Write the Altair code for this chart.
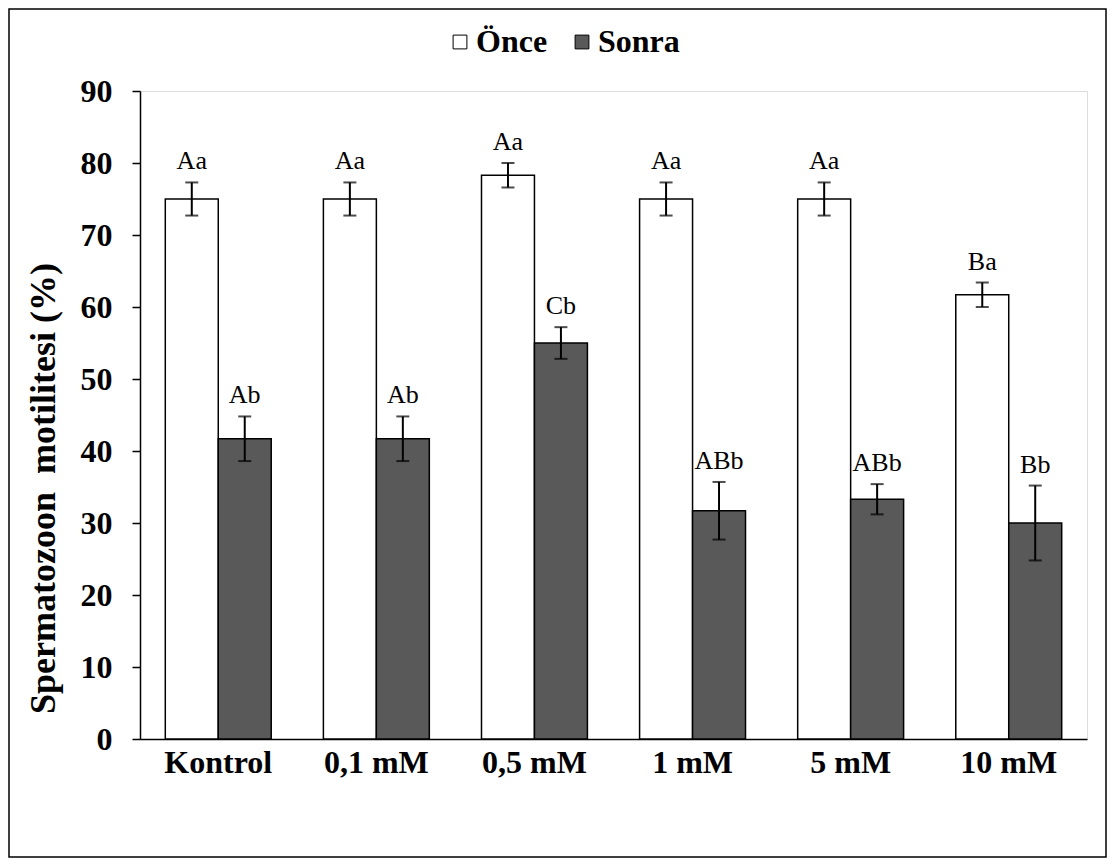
import altair as alt
import pandas as pd

categories = ["Kontrol", "0,1 mM", "0,5 mM", "1 mM", "5 mM", "10 mM"]
series = ["Önce", "Sonra"]
once = [75.0, 75.0, 78.3, 75.0, 75.0, 61.7]
sonra = [41.7, 41.7, 55.0, 31.7, 33.3, 30.0]
once_err = [2.3, 2.3, 1.7, 2.3, 2.3, 1.7]
sonra_err = [3.1, 3.1, 2.2, 4.0, 2.1, 5.2]
once_letters = ["Aa", "Aa", "Aa", "Aa", "Aa", "Ba"]
sonra_letters = ["Ab", "Ab", "Cb", "ABb", "ABb", "Bb"]
y_ticks = [0, 10, 20, 30, 40, 50, 60, 70, 80, 90]

rows = []
for i, c in enumerate(categories):
    rows.append({"cat": c, "series": "Önce", "value": once[i], "err": once_err[i], "letter": once_letters[i]})
    rows.append({"cat": c, "series": "Sonra", "value": sonra[i], "err": sonra_err[i], "letter": sonra_letters[i]})
df = pd.DataFrame(rows)
df["lo"] = df["value"] - df["err"]
df["hi"] = df["value"] + df["err"]

W, H = 947, 648
PL, PT, PR, PB = 132, 83, 20, 119
FONT = "Liberation Serif"

x_enc = alt.X("cat:N", sort=categories,
              scale=alt.Scale(paddingInner=0.33, paddingOuter=0.16),
              axis=alt.Axis(title=None, labelAngle=0, labelFontSize=32, labelFontWeight="bold",
                            labelFont=FONT, labelColor="black", domainColor="black",
                            domainWidth=1.5, ticks=False, labelPadding=8))
xo = alt.XOffset("series:N", sort=series, scale=alt.Scale(paddingInner=0, paddingOuter=0))
y_scale = alt.Scale(domain=[0, 90], nice=False)

base = alt.Chart(df)

bars = base.mark_bar(stroke="black", strokeWidth=1.5).encode(
    x=x_enc,
    xOffset=xo,
    y=alt.Y("value:Q", scale=y_scale,
            axis=alt.Axis(values=y_ticks, grid=False, title="Spermatozoon\u00a0 motilitesi (%)",
                          titleFont=FONT, titleFontSize=36, titleFontWeight="bold", titleColor="black",
                          titleX=-97, titleY=397, titleBaseline="middle", titleAngle=270,
                          labelFont=FONT, labelFontSize=32, labelFontWeight="bold", labelColor="black",
                          domainColor="black", domainWidth=1.5, tickColor="black", tickWidth=1.5,
                          tickSize=8, labelPadding=20)),
    color=alt.Color("series:N", sort=series,
                    scale=alt.Scale(domain=series, range=["#ffffff", "#595959"]),
                    legend=alt.Legend(title=None, orient="none", legendX=304, legendY=-65,
                                      direction="horizontal", symbolType="square", symbolSize=190,
                                      symbolStrokeColor="black", symbolStrokeWidth=1,
                                      labelFont=FONT, labelFontSize=32, labelFontWeight="bold",
                                      labelColor="black", labelOffset=0, columnPadding=18)),
)

rules = base.mark_rule(color="black", strokeWidth=2).encode(
    x=alt.X("cat:N", sort=categories), xOffset=xo,
    y=alt.Y("lo:Q", scale=y_scale), y2="hi:Q")

cap_lo = base.mark_tick(color="black", size=13, thickness=2).encode(
    x=alt.X("cat:N", sort=categories), xOffset=xo, y=alt.Y("lo:Q", scale=y_scale))
cap_hi = base.mark_tick(color="black", size=13, thickness=2).encode(
    x=alt.X("cat:N", sort=categories), xOffset=xo, y=alt.Y("hi:Q", scale=y_scale))

labels = base.mark_text(font=FONT, fontSize=26, color="black", baseline="alphabetic", dy=-13).encode(
    x=alt.X("cat:N", sort=categories), xOffset=xo, y=alt.Y("hi:Q", scale=y_scale), text="letter:N")

border = alt.Chart(alt.Data(values=[{"a": 1}])).mark_rect(
    fill="transparent", stroke="black", strokeWidth=1.5).encode(
    x=alt.value(-PL + 1), x2=alt.value(W + PR - 1),
    y=alt.value(-PT + 1), y2=alt.value(H + PB - 1))

chart = alt.layer(bars, rules, cap_lo, cap_hi, labels, border).properties(
    width=W, height=H,
    padding={"left": PL, "top": PT, "right": PR, "bottom": PB},
    autosize=alt.AutoSizeParams(type="none"),
    background="white",
).configure_view(stroke="transparent").configure_legend(
    labelFont=FONT, labelFontSize=32, labelFontWeight="bold", labelColor="black"
).configure(font=FONT)

chart.save("out.html", embed_options={"renderer": "svg", "actions": False})
